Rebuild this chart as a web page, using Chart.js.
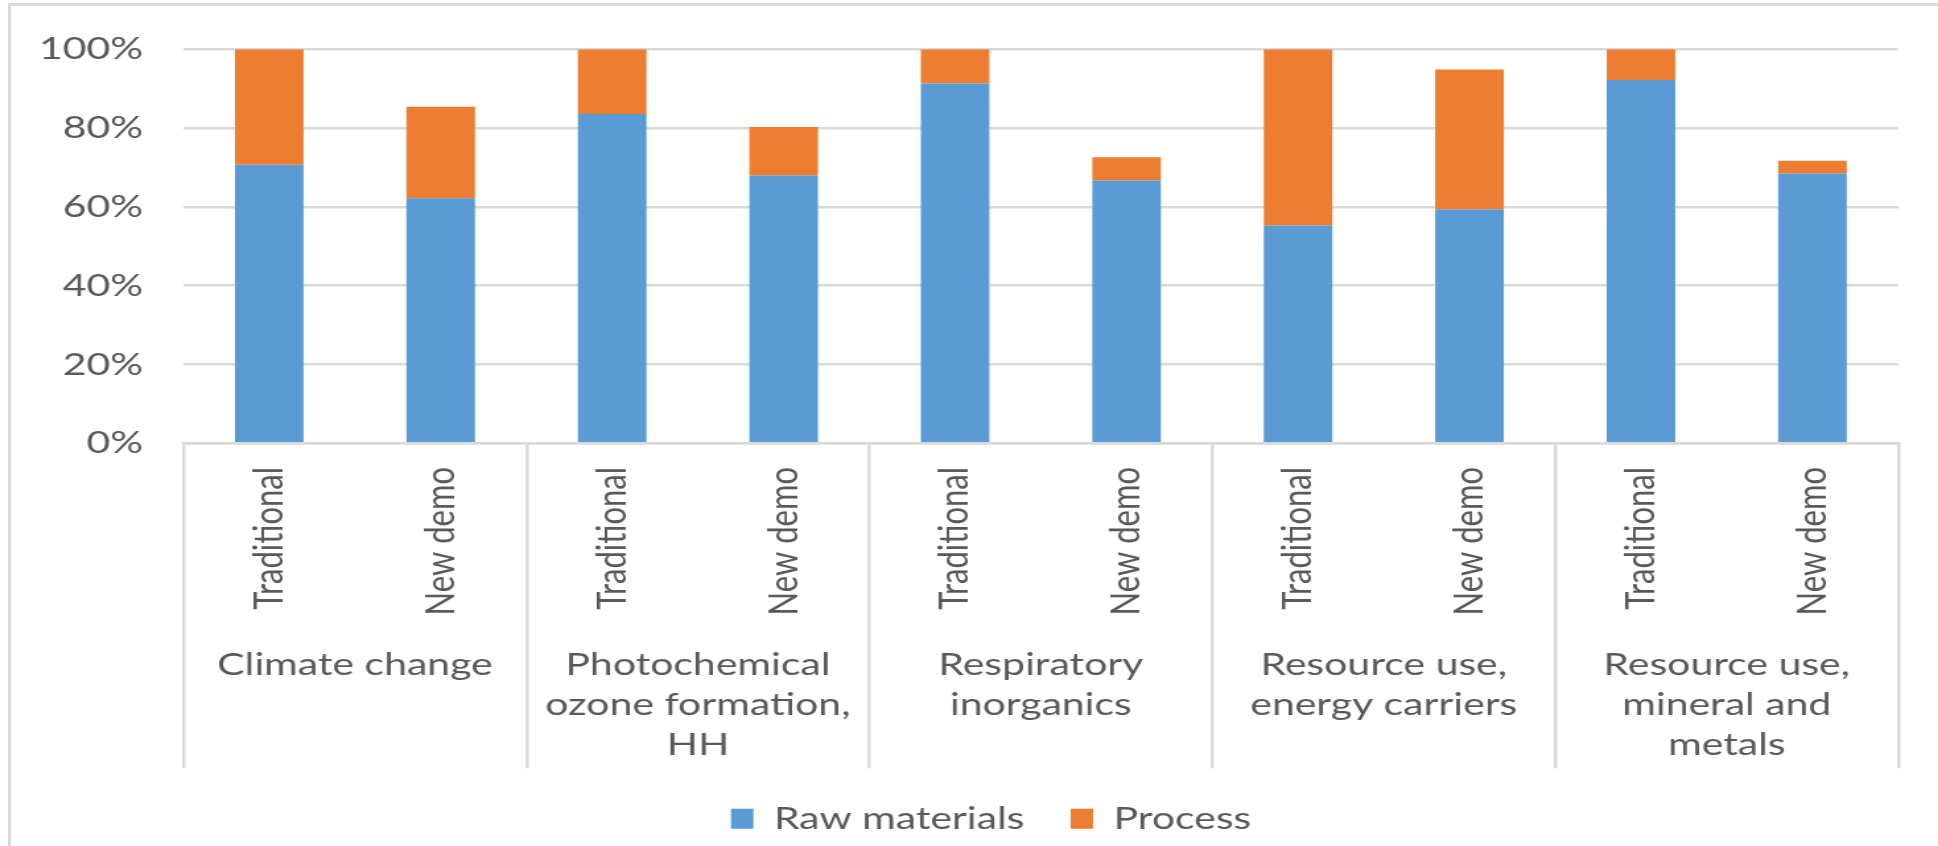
<!DOCTYPE html>
<html>
<head>
<meta charset="utf-8">
<title>Raw materials vs process share</title>
<script src="https://cdn.jsdelivr.net/npm/chart.js@4.4.1/dist/chart.umd.min.js"></script>
<style>
  html, body { margin: 0; padding: 0; background: #ffffff; overflow: hidden; }
  #frame { position: absolute; left: 0; top: 0; width: 1938px; height: 846px; overflow: hidden; background: #ffffff; }
  #edge { position: absolute; left: 8px; top: 3px; right: 0; bottom: 0;
          border-left: 3px solid #d9d9d9; border-top: 3px solid #d9d9d9; }
  /* the chart is laid out on a narrower canvas and widened horizontally */
  #stage { position: absolute; left: 0; top: 0; width: 1468px; height: 846px;
           transform: scaleX(1.3202); transform-origin: 0 0; }
</style>
</head>
<body>
<div id="frame">
  <div id="edge"></div>
  <div id="stage"><canvas id="chart" width="1468" height="846" style="width:1468px;height:846px"></canvas></div>
</div>
<script>
// Inner category labels (one per bar)
const scenarios = [
  'Traditional', 'New demo',
  'Traditional', 'New demo',
  'Traditional', 'New demo',
  'Traditional', 'New demo',
  'Traditional', 'New demo'
];

// Impact categories (one per pair of bars)
const impactCategories = [
  ['Climate change'],
  ['Photochemical', 'ozone formation,', 'HH'],
  ['Respiratory', 'inorganics'],
  ['Resource use,', 'energy carriers'],
  ['Resource use,', 'mineral and', 'metals']
];

// Shares in percent
const rawMaterials = [70.7, 62.2, 83.6, 68.0, 91.3, 66.7, 55.3, 59.4, 92.2, 68.5];
const processShare = [29.3, 23.2, 16.4, 12.3, 8.7, 5.9, 44.7, 35.5, 7.8, 3.2];

const seriesNames = ['Raw materials', 'Process'];
const seriesColors = ['#5B9BD5', '#ED7D31'];

const GRID = '#d9d9d9';
const TEXT = '#595959';
const FONT = 'Lato, "Open Sans", sans-serif';
const FONT_SIZE = 31;

// Moves the legend sideways after layout so it sits under the middle of the frame
const legendShift = {
  id: 'legendShift',
  afterLayout(chart, args, opts) {
    const lg = chart.legend;
    if (lg && opts && opts.dx) {
      lg.left += opts.dx;
      lg.right += opts.dx;
    }
  }
};

const ctx = document.getElementById('chart').getContext('2d');

new Chart(ctx, {
  type: 'bar',
  data: {
    labels: scenarios,
    datasets: [
      { label: seriesNames[0], data: rawMaterials, backgroundColor: seriesColors[0], borderWidth: 0,
        barPercentage: 0.4, categoryPercentage: 1.0, xAxisID: 'x' },
      { label: seriesNames[1], data: processShare, backgroundColor: seriesColors[1], borderWidth: 0,
        barPercentage: 0.4, categoryPercentage: 1.0, xAxisID: 'x' }
    ]
  },
  plugins: [legendShift],
  options: {
    responsive: false,
    devicePixelRatio: 1,
    animation: false,
    events: [],
    layout: { padding: { left: 20, right: 30.2, top: 45.7, bottom: 1.7 } },
    plugins: {
      tooltip: { enabled: false },
      legendShift: { dx: 21.8 },
      legend: {
        position: 'bottom',
        align: 'center',
        labels: {
          color: TEXT,
          font: { family: FONT, size: FONT_SIZE },
          boxWidth: 17,
          boxHeight: 20,
          padding: 35
        }
      }
    },
    scales: {
      y: {
        stacked: true,
        min: 0,
        max: 100,
        border: { display: false },
        grid: { color: GRID, lineWidth: 2.5, drawTicks: false, tickLength: 0 },
        ticks: {
          stepSize: 20,
          padding: 30.7,
          color: TEXT,
          font: { family: FONT, size: FONT_SIZE },
          callback: (v) => v + '%'
        },
        afterFit: (scale) => { scale.width = 119; }
      },
      x: {
        stacked: true,
        position: 'bottom',
        weight: 1,
        offset: true,
        border: { display: true, color: GRID, width: 2.5 },
        grid: {
          offset: true,
          drawOnChartArea: false,
          drawTicks: true,
          tickLength: 325,
          lineWidth: 2.5,
          // dividers only at the edges of each impact category
          color: (c) => (c.type !== 'tick' || c.index % 2 === 0) ? GRID : 'rgba(0,0,0,0)'
        },
        ticks: {
          autoSkip: false,
          minRotation: 90,
          maxRotation: 90,
          padding: -301.3,
          color: TEXT,
          font: { family: FONT, size: FONT_SIZE }
        },
        afterFit: (scale) => { scale.height = 170; }
      },
      x2: {
        type: 'category',
        labels: impactCategories,
        position: 'bottom',
        weight: 2,
        offset: true,
        border: { display: false },
        grid: { display: false, drawTicks: false },
        ticks: {
          autoSkip: false,
          minRotation: 0,
          maxRotation: 0,
          padding: 32,
          color: TEXT,
          font: { family: FONT, size: FONT_SIZE, lineHeight: 40 / FONT_SIZE }
        },
        afterFit: (scale) => { scale.height = 155; }
      }
    }
  }
});
</script>
</body>
</html>
